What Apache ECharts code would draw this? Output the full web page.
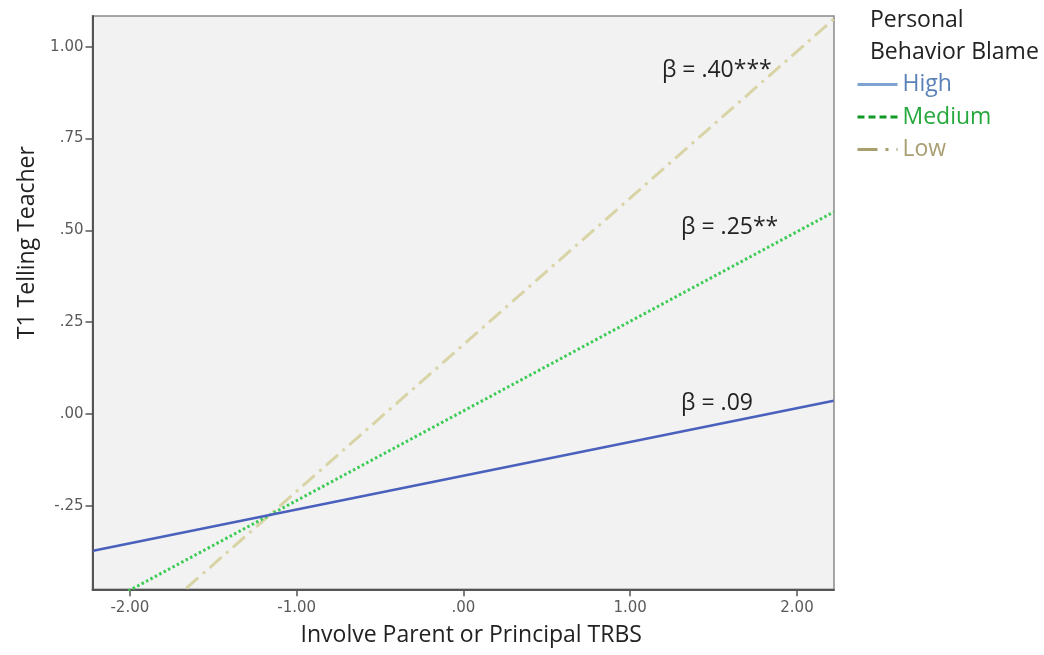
<!DOCTYPE html>
<html>
<head>
<meta charset="utf-8">
<script src="https://cdn.jsdelivr.net/npm/echarts@6/dist/echarts.min.js"></script>
<style>
  html, body { margin: 0; padding: 0; background: #ffffff; }
  #chart { width: 1044px; height: 655px; }
</style>
</head>
<body>
<div id="chart"></div>
<script>
// ---- data ----
const seriesNames = ['High', 'Medium', 'Low'];
const xEnds = [-2.22, 2.22];
const highY = [-0.372, 0.036];
const mediumY = [-0.533, 0.550];
const lowY = [-0.697, 1.075];
const xTicks = [-2, -1, 0, 1, 2];
const yTicks = [-0.25, 0, 0.25, 0.5, 0.75, 1];
const annotTexts = ['β = .40***', 'β = .25**', 'β = .09'];
const annotCoords = [[1.19, 0.935], [1.305, 0.507], [1.305, 0.028]];
const legendTitle = 'Personal\nBehavior Blame';
const xName = 'Involve Parent or Principal TRBS';
const yName = 'T1 Telling Teacher';

const FONT = 'Open Sans';
const FS = 23;
const fmt = v => v.toFixed(2).replace(/^(-?)0\./, '$1.');
const pts = ys => xEnds.map((x, i) => [x, ys[i]]);

const chart = echarts.init(document.getElementById('chart'), null, { renderer: 'canvas' });

function annot(i) {
  return {
    symbol: 'none',
    silent: true,
    data: [{
      coord: annotCoords[i],
      symbol: 'rect',
      symbolSize: 0,
      label: {
        show: true,
        formatter: annotTexts[i],
        position: 'right',
        distance: 0,
        color: '#222',
        fontFamily: FONT,
        fontSize: FS
      }
    }]
  };
}

const hidden = { opacity: 0, borderWidth: 0 };

const option = {
  backgroundColor: '#ffffff',
  animation: false,
  title: {
    text: legendTitle,
    left: 865,
    top: -1,
    textStyle: { fontFamily: FONT, fontSize: FS, fontWeight: 'normal', color: '#222', lineHeight: 32 }
  },
  legend: {
    orient: 'vertical',
    left: 851,
    top: 68,
    itemWidth: 40,
    itemHeight: 22,
    itemGap: 9.5,
    textStyle: { fontFamily: FONT, fontSize: FS, lineHeight: 22, padding: [0, 0, 0, 0] },
    data: [
      { name: seriesNames[0], itemStyle: hidden, textStyle: { color: '#5b82b8' }, lineStyle: { color: '#7fa3d1', width: 3, type: 'solid' } },
      { name: seriesNames[1], itemStyle: hidden, textStyle: { color: '#25a83c' }, lineStyle: { color: '#0e9a25', width: 3, type: [7, 4] } },
      { name: seriesNames[2], itemStyle: hidden, textStyle: { color: '#a99f72' }, lineStyle: { color: '#a89f6e', width: 3, type: [20, 8, 3, 8] } }
    ]
  },
  grid: {
    left: 92.5, right: 210, top: 16, bottom: 65.7,
    show: true,
    backgroundColor: '#f2f2f2',
    borderColor: '#8a8a8a',
    borderWidth: 1.5
  },
  xAxis: {
    type: 'value',
    min: -2.224, max: 2.222,
    name: xName,
    nameLocation: 'middle',
    nameGap: 35,
    nameTextStyle: { fontFamily: FONT, fontSize: FS, color: '#222', padding: [0, 0, 0, 16] },
    axisLine: { show: true, onZero: false, lineStyle: { color: '#555', width: 2 } },
    axisTick: { show: true, length: 7, customValues: xTicks, lineStyle: { color: '#555', width: 1.5 } },
    axisLabel: { customValues: xTicks, formatter: fmt, color: '#5a5a5a', fontFamily: 'DejaVu Sans', fontSize: 15, margin: 11 },
    splitLine: { show: false }
  },
  yAxis: {
    type: 'value',
    min: -0.477, max: 1.0835,
    name: yName,
    nameLocation: 'middle',
    nameGap: 54,
    nameRotate: 90,
    nameTextStyle: { fontFamily: FONT, fontSize: FS, color: '#222', padding: [0, 0, 0, 120] },
    axisLine: { show: true, onZero: false, lineStyle: { color: '#555', width: 2 } },
    axisTick: { show: true, length: 7, customValues: yTicks, lineStyle: { color: '#555', width: 1.5 } },
    axisLabel: { customValues: yTicks, formatter: fmt, color: '#5a5a5a', fontFamily: 'DejaVu Sans', fontSize: 15, margin: 9 },
    splitLine: { show: false }
  },
  series: [
    {
      name: seriesNames[2], type: 'line', symbol: 'none', clip: true,
      data: pts(lowY),
      lineStyle: { color: '#d9d4a6', width: 3, type: [16, 6, 3, 6] },
      itemStyle: { color: '#a89f6e' },
      markPoint: annot(0), z: 2
    },
    {
      name: seriesNames[1], type: 'line', symbol: 'none', clip: true,
      data: pts(mediumY),
      lineStyle: { color: '#3ccb55', width: 3, type: [2.5, 2.5] },
      itemStyle: { color: '#0e9a25' },
      markPoint: annot(1), z: 3
    },
    {
      name: seriesNames[0], type: 'line', symbol: 'none', clip: true,
      data: pts(highY),
      lineStyle: { color: '#4a60bd', width: 2.5, type: 'solid' },
      itemStyle: { color: '#7fa3d1' },
      markPoint: annot(2), z: 4
    }
  ]
};

chart.setOption(option);
</script>
</body>
</html>
